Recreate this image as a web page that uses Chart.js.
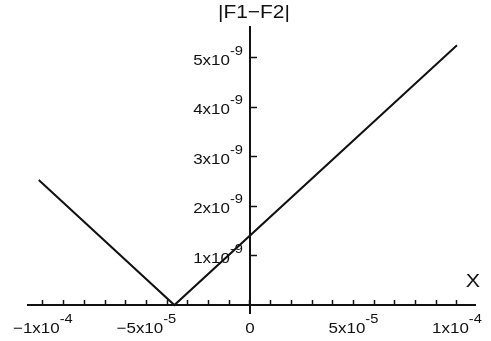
<!DOCTYPE html>
<html>
<head>
<meta charset="utf-8">
<script src="https://cdn.jsdelivr.net/npm/chart.js@4.4.1/dist/chart.umd.min.js"></script>
<style>
  html, body { margin: 0; padding: 0; background: #fff; }
  #wrap { width: 491px; height: 341px; }
</style>
</head>
<body>
<div id="wrap"><canvas id="myChart" width="491" height="341"></canvas></div>
<script>
// values
const xValues = [-1.02e-4, -3.65e-5, 1.0e-4];
const yValues = [2.53e-9, 0, 5.25e-9];

const xTicks = [-1e-4, -9e-5, -8e-5, -7e-5, -6e-5, -5e-5, -4e-5, -3e-5, -2e-5, -1e-5, 0,
  1e-5, 2e-5, 3e-5, 4e-5, 5e-5, 6e-5, 7e-5, 8e-5, 9e-5, 1e-4];
const xLabels = [-1e-4, -5e-5, 0, 5e-5, 1e-4];
const yTicks = [1e-9, 2e-9, 3e-9, 4e-9, 5e-9];
const yLabels = [1e-9, 2e-9, 3e-9, 4e-9, 5e-9];

const chartTitle = '|F1\u2212F2|';
const xTitle = 'X';

const FONT = '"Liberation Sans", Arial, sans-serif';
const STRETCH = 1.13; // the original text is a bit wide
const ctx = document.getElementById('myChart').getContext('2d');

// split a value into "m x10" and its exponent
const splitSci = v => {
  if (v === 0) return ['0', ''];
  const e = Math.floor(Math.log10(Math.abs(v)) + 1e-9);
  const m = Math.round(v / Math.pow(10, e));
  return [(m < 0 ? '\u2212' : '') + Math.abs(m) + 'x10', '' + e];
};

const textW = (c, s, size) => {
  c.font = size + 'px ' + FONT;
  return c.measureText(s).width * STRETCH;
};

const putText = (c, s, x, y, size) => {
  c.save();
  c.font = size + 'px ' + FONT;
  c.textAlign = 'left';
  c.textBaseline = 'alphabetic';
  c.translate(x, y);
  c.scale(STRETCH, 1);
  c.fillText(s, 0, 0);
  c.restore();
};

const drawSci = (c, v, x, y, align) => {
  const [base, exp] = splitSci(v);
  const wb = textW(c, base, 15);
  const we = exp ? textW(c, exp, 13) : 0;
  const x0 = align === 'center' ? x - (wb + we) / 2 : x - (wb + we);
  putText(c, base, x0, y, 15);
  if (exp) putText(c, exp, x0 + wb, y - 10, 13);
};

const labelPlugin = {
  id: 'sciLabels',
  afterDraw(chart) {
    const c = chart.ctx;
    const xs = chart.scales.x, ys = chart.scales.y;
    const x0 = xs.getPixelForValue(0), y0 = ys.getPixelForValue(0);
    c.save();
    c.fillStyle = '#111';
    xLabels.forEach(v => drawSci(c, v, xs.getPixelForValue(v), y0 + 28, 'center'));
    yLabels.forEach(v => drawSci(c, v, x0 - 7, ys.getPixelForValue(v) + 7, 'right'));
    const tw = textW(c, chartTitle, 18.5);
    putText(c, chartTitle, x0 + 4 - tw / 2, 18, 18.5);
    const xw = textW(c, xTitle, 19);
    putText(c, xTitle, 473 - xw / 2, y0 - 18, 19);
    c.restore();
  }
};

new Chart(ctx, {
  type: 'line',
  data: {
    datasets: [{
      data: xValues.map((x, i) => ({ x: x, y: yValues[i] })),
      borderColor: '#111',
      borderWidth: 2,
      pointRadius: 0,
      tension: 0,
      fill: false
    }]
  },
  options: {
    responsive: false,
    animation: false,
    devicePixelRatio: 1,
    layout: { padding: { left: 28, right: 16, top: 27, bottom: 28 } },
    plugins: { legend: { display: false }, tooltip: { enabled: false } },
    scales: {
      x: {
        type: 'linear',
        min: -1.072e-4,
        max: 1.087e-4,
        position: { y: 0 },
        afterBuildTicks: s => { s.ticks = xTicks.map(v => ({ value: v })); },
        ticks: { display: false },
        grid: { drawOnChartArea: false, drawTicks: true, tickLength: -6, tickColor: '#111', tickWidth: 1.5 },
        border: { color: '#111', width: 2 }
      },
      y: {
        type: 'linear',
        min: -0.16e-9,
        max: 5.62e-9,
        position: { x: 0 },
        afterBuildTicks: s => { s.ticks = yTicks.map(v => ({ value: v })); },
        ticks: { display: false },
        grid: { drawOnChartArea: false, drawTicks: true, tickLength: -8, tickColor: '#111', tickWidth: 1.5 },
        border: { color: '#111', width: 2 }
      }
    }
  },
  plugins: [labelPlugin]
});
</script>
</body>
</html>
